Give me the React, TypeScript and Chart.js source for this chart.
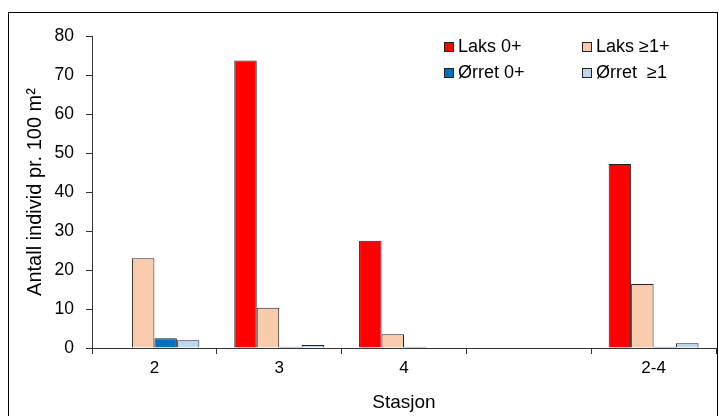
import React, { useEffect, useRef } from "react";
import { Chart, registerables } from "chart.js";

Chart.register(...registerables);

const categories = ["2", "3", "4", "", "2-4"];
const seriesNames = ["Laks 0+", "Laks ≥1+", "Ørret 0+", "Ørret  ≥1"];
const laks0 = [0, 73.7, 27.5, null, 47.2];
const laks1 = [23, 10.3, 3.5, null, 16.4];
const orret0 = [2.5, 0.3, 0.3, null, 0.3];
const orret1 = [2.0, 0.8, 0.2, null, 1.2];
const seriesColors = ["#FF0000", "#F8CBAD", "#0070C0", "#BDD7EE"];
const yTicks = { min: 0, max: 80, step: 10 };

const FONT = "'Liberation Sans', Arial, sans-serif";

const frameAndLegend = {
  id: "frameAndLegend",
  beforeDraw(chart: any) {
    const ctx = chart.ctx;
    ctx.save();
    ctx.fillStyle = "#fff";
    ctx.fillRect(0, 0, chart.width, chart.height);
    ctx.strokeStyle = "#000";
    ctx.lineWidth = 1;
    ctx.strokeRect(8.5, 12.5, 709, 420);
    ctx.restore();
  },
  afterDraw(chart: any) {
    const ctx = chart.ctx;
    const pos = [
      [444, 42],
      [582, 42],
      [444, 68],
      [582, 68],
    ];
    ctx.save();
    ctx.font = `18px ${FONT}`;
    ctx.textBaseline = "middle";
    chart.data.datasets.forEach((ds: any, i: number) => {
      const [x, y] = pos[i];
      ctx.fillStyle = ds.backgroundColor;
      ctx.fillRect(x, y, 10, 10);
      ctx.strokeStyle = "#222";
      ctx.lineWidth = 1;
      ctx.strokeRect(x + 0.5, y + 0.5, 9, 9);
      ctx.fillStyle = "#000";
      ctx.fillText(ds.label, x + 14, y + 5.5);
    });
    ctx.restore();
  },
};

export default function App() {
  const ref = useRef<HTMLCanvasElement>(null);
  useEffect(() => {
    const values = [laks0, laks1, orret0, orret1];
    const chart = new Chart(ref.current!, {
      type: "bar",
      data: {
        labels: categories,
        datasets: seriesNames.map((n, i) => ({
          label: n,
          data: values[i],
          backgroundColor: seriesColors[i],
          borderColor: "#222",
          borderWidth: 1,
          categoryPercentage: 0.72,
          barPercentage: 1,
        })),
      },
      options: {
        animation: false,
        responsive: false,
        devicePixelRatio: 1,
        layout: { padding: { top: 36, left: 0, right: 3, bottom: 0 } },
        plugins: { legend: { display: false }, tooltip: { enabled: false } },
        scales: {
          x: {
            grid: {
              display: true,
              drawOnChartArea: false,
              drawTicks: true,
              tickLength: 6,
              color: "#333",
              offset: true,
            },
            border: { color: "#333", width: 1 },
            ticks: { color: "#000", font: { family: FONT, size: 17 }, padding: 4, maxRotation: 0 },
            title: {
              display: true,
              text: "Stasjon",
              color: "#000",
              font: { family: FONT, size: 19 },
              padding: { top: 4, bottom: 2 },
            },
            afterFit(scale: any) {
              scale.height = 68;
            },
          },
          y: {
            min: yTicks.min,
            max: yTicks.max,
            ticks: { stepSize: yTicks.step, color: "#000", font: { family: FONT, size: 17.5 }, padding: 12 },
            grid: {
              display: true,
              drawOnChartArea: false,
              drawTicks: true,
              tickLength: 6,
              color: "#333",
            },
            border: { color: "#333", width: 1 },
            title: {
              display: true,
              text: "Antall individ pr. 100 m²",
              color: "#000",
              font: { family: FONT, size: 20 },
              padding: { top: 23, bottom: 0 },
            },
            afterFit(scale: any) {
              scale.width = 92;
            },
          },
        },
      },
      plugins: [frameAndLegend],
    } as any);
    return () => chart.destroy();
  }, []);
  return (
    <div style={{ position: "fixed", left: 0, top: 0, width: 719, height: 416 }}>
      <canvas ref={ref} width={719} height={416} style={{ display: "block" }} />
    </div>
  );
}
